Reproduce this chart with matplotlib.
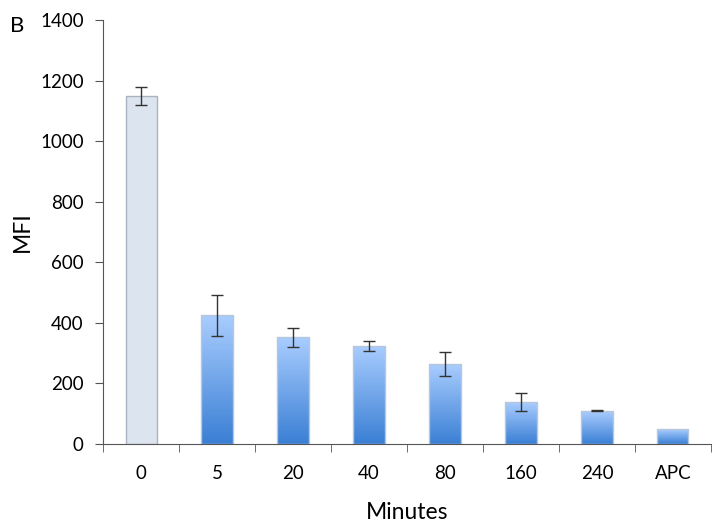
import matplotlib.pyplot as plt
import numpy as np
from matplotlib.colors import LinearSegmentedColormap

plt.rcParams['font.family'] = ['Lato', 'DejaVu Sans']

categories = ["0", "5", "20", "40", "80", "160", "240", "APC"]
mfi = [1150, 425, 352, 324, 264, 138, 109, 49]
err = [30, 68, 32, 17, 41, 30, 2, 0]

fig = plt.figure(figsize=(7.21, 5.29), dpi=100)
ax = fig.add_axes([0.143, 0.161, 0.843, 0.801])

x = np.arange(len(categories))
w = 0.41
bars = ax.bar(x, mfi, w, color="none", edgecolor="#b7c6d9", linewidth=1.0, zorder=2)

grad = LinearSegmentedColormap.from_list("g", ["#3a7fd4", "#a9cdff"])
for i, b in enumerate(bars):
    x0, y0 = b.get_x(), b.get_y()
    if i == 0:
        b.set_facecolor("#dce4ef")
        b.set_edgecolor("#aab3c0")
        continue
    im = ax.imshow(np.linspace(0, 1, 256).reshape(-1, 1), cmap=grad, origin="lower",
                   extent=[x0, x0 + b.get_width(), y0, y0 + b.get_height()],
                   aspect="auto", zorder=1.5)
    im.set_clip_path(b)

ax.errorbar(x[:-1], mfi[:-1], yerr=err[:-1], fmt="none", ecolor="#333333",
            elinewidth=1.0, capsize=4, capthick=1.0, zorder=3)

ax.set_xlim(-0.5, len(categories) - 0.5)
ax.set_ylim(0, 1400)
ax.set_yticks(range(0, 1401, 200))
ax.set_xticks(x)
ax.set_xticklabels(categories)
ax.set_xticks(np.arange(-0.5, len(categories)), minor=True)
ax.tick_params(axis="x", which="major", length=0, pad=15, labelsize=13.5)
ax.tick_params(axis="x", which="minor", length=6, direction="out", color="#555555")
ax.tick_params(axis="y", length=6, direction="out", color="#555555", labelsize=13.5, pad=8)

for s in ["top", "right"]:
    ax.spines[s].set_visible(False)
for s in ["left", "bottom"]:
    ax.spines[s].set_color("#555555")

ax.set_xlabel("Minutes", fontsize=16.5, labelpad=15)
ax.set_ylabel("MFI", fontsize=16.5, labelpad=5)
fig.text(0.014, 0.94, "B", fontsize=16)

plt.savefig("out.png", dpi=100)
